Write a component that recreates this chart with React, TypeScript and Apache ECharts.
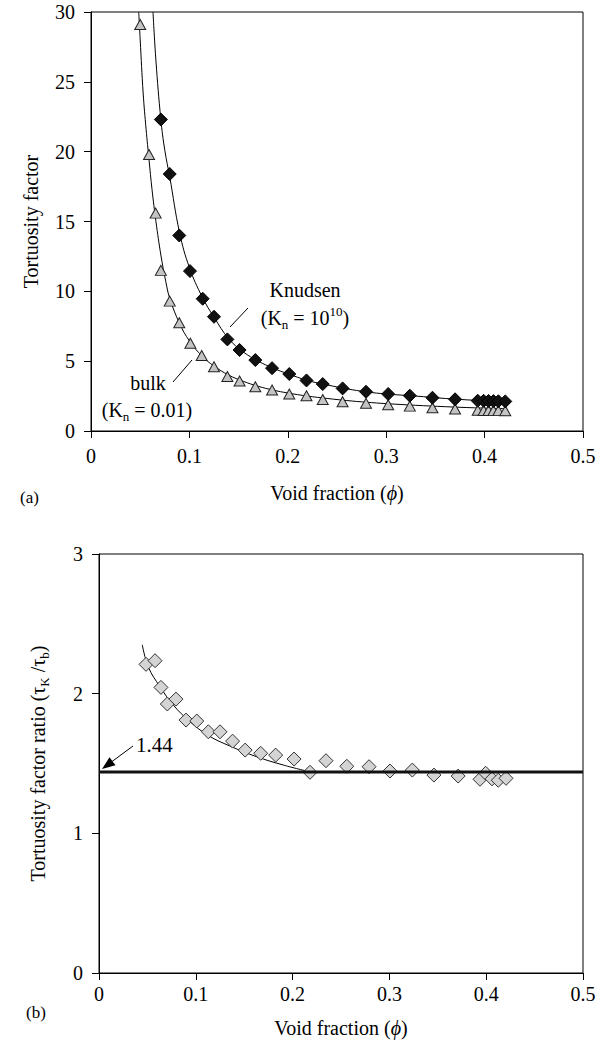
import React, { useEffect, useRef } from "react";
import * as echarts from "echarts";

const FONT = "Liberation Serif";

// (a) bulk (triangles) — void fraction and tortuosity factor
const bulkPhi = [0.05, 0.059, 0.0657, 0.071, 0.08, 0.0897, 0.101, 0.1125, 0.125, 0.1386, 0.151, 0.167, 0.184, 0.2015, 0.219, 0.2355, 0.2557, 0.2795, 0.302, 0.324, 0.347, 0.37, 0.393, 0.399, 0.404, 0.409, 0.414, 0.421];
const bulkTau = [29.1, 19.8, 15.6, 11.5, 9.3, 7.75, 6.28, 5.4, 4.6, 3.9, 3.58, 3.17, 2.93, 2.65, 2.52, 2.25, 2.1, 1.98, 1.88, 1.78, 1.66, 1.58, 1.48, 1.47, 1.47, 1.46, 1.46, 1.45];
// (a) Knudsen (diamonds)
const knPhi = [0.071, 0.08, 0.0897, 0.1006, 0.1135, 0.125, 0.1386, 0.151, 0.167, 0.184, 0.2015, 0.219, 0.2355, 0.2557, 0.2795, 0.302, 0.324, 0.347, 0.37, 0.393, 0.399, 0.404, 0.409, 0.414, 0.421];
const knTau = [22.3, 18.4, 14.0, 11.45, 9.47, 8.18, 6.56, 5.8, 5.08, 4.5, 4.08, 3.62, 3.36, 3.05, 2.81, 2.65, 2.53, 2.38, 2.27, 2.17, 2.16, 2.15, 2.14, 2.13, 2.12];
// (a) fitted curves
const bulkCurvePhi = [0.0485, 0.05, 0.053, 0.056, 0.059, 0.062, 0.066, 0.071, 0.076, 0.08, 0.09, 0.1, 0.113, 0.125, 0.14, 0.155, 0.17, 0.185, 0.2, 0.22, 0.24, 0.26, 0.28, 0.3, 0.33, 0.36, 0.39, 0.421];
const bulkCurveTau = [30, 28.0, 24.2, 21.6, 19.4, 17.3, 15.0, 12.6, 10.7, 9.5, 7.7, 6.45, 5.35, 4.65, 4.0, 3.55, 3.2, 2.93, 2.72, 2.5, 2.33, 2.18, 2.06, 1.96, 1.84, 1.74, 1.66, 1.6];
const knCurvePhi = [0.063, 0.066, 0.071, 0.075, 0.08, 0.09, 0.1, 0.113, 0.125, 0.14, 0.155, 0.17, 0.185, 0.2, 0.22, 0.24, 0.26, 0.28, 0.3, 0.33, 0.36, 0.39, 0.421];
const knCurveTau = [30, 26.5, 22.3, 20.1, 18.2, 14.2, 11.7, 9.6, 8.15, 6.6, 5.65, 5.0, 4.5, 4.1, 3.62, 3.3, 3.02, 2.8, 2.65, 2.5, 2.33, 2.2, 2.1];

// (b) ratio tau_K / tau_b
const ratioPhi = [0.0486, 0.0579, 0.064, 0.0706, 0.0795, 0.0899, 0.101, 0.113, 0.125, 0.138, 0.151, 0.167, 0.1825, 0.2015, 0.218, 0.2345, 0.256, 0.279, 0.3006, 0.3237, 0.346, 0.371, 0.3936, 0.3995, 0.406, 0.4125, 0.4205];
const ratioVal = [2.21, 2.236, 2.045, 1.926, 1.961, 1.811, 1.804, 1.727, 1.727, 1.66, 1.596, 1.573, 1.56, 1.532, 1.437, 1.52, 1.48, 1.477, 1.446, 1.453, 1.417, 1.41, 1.387, 1.43, 1.39, 1.38, 1.394];
const ratioCurvePhi = [0.0447, 0.051, 0.063, 0.0768, 0.094, 0.113, 0.1353, 0.163, 0.1904, 0.218];
const ratioCurveVal = [2.35, 2.19, 2.05, 1.918, 1.8, 1.7, 1.625, 1.548, 1.489, 1.44];
const refRatio = 1.44;
const refSpan = [0, 0.5];

const zip = (a: number[], b: number[]) => a.map((v, i) => [v, b[i]]);

const axisBase = {
  axisLine: { show: true, lineStyle: { color: "#000", width: 1 } },
  axisTick: { show: true, inside: false, length: 7, lineStyle: { color: "#000" } },
  splitLine: { show: false },
};
const labelStyle = { color: "#000", fontFamily: FONT, fontSize: 20 };

export default function App() {
  const ref = useRef<HTMLDivElement>(null);
  useEffect(() => {
    if (!ref.current) return;
    const chart = echarts.init(ref.current, null, { renderer: "svg" });
    const sub = { fontFamily: FONT, fontSize: 13, lineHeight: 12, verticalAlign: "bottom", fill: "#000", color: "#000" };
    const sup = { fontFamily: FONT, fontSize: 13, lineHeight: 12, verticalAlign: "top", fill: "#000", color: "#000" };
    const norm = { fontFamily: FONT, fontSize: 20, lineHeight: 26, fill: "#000", color: "#000" };
    chart.setOption({
      animation: false,
      backgroundColor: "#fff",
      grid: [
        { left: 91, top: 12, width: 492, height: 419, show: true, borderColor: "#000", borderWidth: 1, backgroundColor: "transparent" },
        { left: 99, top: 554, width: 484, height: 419, show: true, borderColor: "#000", borderWidth: 1, backgroundColor: "transparent" },
      ],
      xAxis: [
        {
          ...axisBase, type: "value", gridIndex: 0, min: 0, max: 0.5, interval: 0.1,
          axisLabel: { ...labelStyle, margin: 15 },
          name: "Void fraction ({i|ϕ})", nameLocation: "middle", nameGap: 52,
          nameTextStyle: { ...labelStyle, rich: { i: { fontFamily: FONT, fontSize: 20, fontStyle: "italic", color: "#000" } } },
        },
        {
          ...axisBase, type: "value", gridIndex: 1, min: 0, max: 0.5, interval: 0.1,
          axisLabel: { ...labelStyle, margin: 11 },
          name: "Void fraction ({i|ϕ})", nameLocation: "middle", nameGap: 45,
          nameTextStyle: { ...labelStyle, rich: { i: { fontFamily: FONT, fontSize: 20, fontStyle: "italic", color: "#000" } } },
        },
      ],
      yAxis: [
        {
          ...axisBase, type: "value", gridIndex: 0, min: 0, max: 30, interval: 5,
          axisLabel: { ...labelStyle, margin: 16 },
          name: "Tortuosity factor", nameLocation: "middle", nameGap: 50, nameRotate: 90,
          nameTextStyle: { ...labelStyle },
        },
        {
          ...axisBase, type: "value", gridIndex: 1, min: 0, max: 3, interval: 1,
          axisLabel: { ...labelStyle, margin: 16 },
          name: "Tortuosity factor ratio (τ{s|K} /τ{s|b})", nameLocation: "middle", nameGap: 48, nameRotate: 90,
          nameTextStyle: {
            ...labelStyle, lineHeight: 26,
            rich: { s: { fontFamily: FONT, fontSize: 13, lineHeight: 12, verticalAlign: "bottom", color: "#000" } },
          },
        },
      ],
      series: [
        {
          type: "line", xAxisIndex: 0, yAxisIndex: 0, data: zip(bulkCurvePhi, bulkCurveTau),
          smooth: 0.4, showSymbol: false, symbol: "none",
          lineStyle: { color: "#000", width: 1 }, z: 2, silent: true,
        },
        {
          type: "line", xAxisIndex: 0, yAxisIndex: 0, data: zip(knCurvePhi, knCurveTau),
          smooth: 0.4, showSymbol: false, symbol: "none",
          lineStyle: { color: "#000", width: 1 }, z: 2, silent: true,
        },
        {
          type: "scatter", xAxisIndex: 0, yAxisIndex: 0, data: zip(bulkPhi, bulkTau),
          symbol: "triangle", symbolSize: [11, 10],
          itemStyle: { color: "#c4c4c4", borderColor: "#222", borderWidth: 1, opacity: 1 }, z: 3,
        },
        {
          type: "scatter", xAxisIndex: 0, yAxisIndex: 0, data: zip(knPhi, knTau),
          symbol: "diamond", symbolSize: 13,
          itemStyle: { color: "#111", borderColor: "#000", borderWidth: 1, opacity: 1 }, z: 3,
        },
        {
          type: "line", xAxisIndex: 1, yAxisIndex: 1, data: zip(ratioCurvePhi, ratioCurveVal),
          smooth: 0.4, showSymbol: false, symbol: "none",
          lineStyle: { color: "#000", width: 1 }, z: 2, silent: true,
        },
        {
          type: "scatter", xAxisIndex: 1, yAxisIndex: 1, data: zip(ratioPhi, ratioVal),
          symbol: "diamond", symbolSize: 14,
          itemStyle: { color: "#d4d4d4", borderColor: "#333", borderWidth: 1, opacity: 1 }, z: 3,
        },
        {
          type: "line", xAxisIndex: 1, yAxisIndex: 1, data: refSpan.map((x) => [x, refRatio]),
          showSymbol: false, symbol: "none", lineStyle: { color: "#111", width: 3 }, z: 4, silent: true,
        },
      ],
      graphic: [
        // (a) annotations
        { type: "text", x: 305, y: 290, style: { text: "Knudsen", ...norm, align: "center", verticalAlign: "middle" } },
        {
          type: "text", x: 305, y: 318,
          style: { text: "(K{s|n} = 10{p|10})", ...norm, align: "center", verticalAlign: "middle", rich: { s: sub, p: sup } },
        },
        { type: "line", shape: { x1: 230, y1: 327, x2: 248, y2: 308 }, style: { stroke: "#000", lineWidth: 1 } },
        { type: "text", x: 148, y: 383, style: { text: "bulk", ...norm, align: "center", verticalAlign: "middle" } },
        {
          type: "text", x: 147, y: 410,
          style: { text: "(K{s|n} = 0.01)", ...norm, align: "center", verticalAlign: "middle", rich: { s: sub } },
        },
        { type: "line", shape: { x1: 173, y1: 382, x2: 192, y2: 360 }, style: { stroke: "#000", lineWidth: 1 } },
        { type: "text", x: 20, y: 497, style: { text: "(a)", fontFamily: FONT, fontSize: 17, fill: "#000", align: "left", verticalAlign: "middle" } },
        // (b) annotations
        { type: "text", x: 136, y: 745, style: { text: "1.44", fontFamily: FONT, fontSize: 21, fill: "#000", align: "left", verticalAlign: "middle" } },
        { type: "line", shape: { x1: 133, y1: 746, x2: 110, y2: 763 }, style: { stroke: "#000", lineWidth: 1 } },
        { type: "polygon", shape: { points: [[102, 769], [115.5, 765.3], [109.5, 757.3]] }, style: { fill: "#000" } },
        { type: "text", x: 26, y: 1012, style: { text: "(b)", fontFamily: FONT, fontSize: 17, fill: "#000", align: "left", verticalAlign: "middle" } },
      ],
    });
    return () => chart.dispose();
  }, []);
  return (
    <div
      ref={ref}
      style={{ position: "absolute", left: 0, top: 0, width: 608, height: 1045, background: "#fff" }}
    />
  );
}
